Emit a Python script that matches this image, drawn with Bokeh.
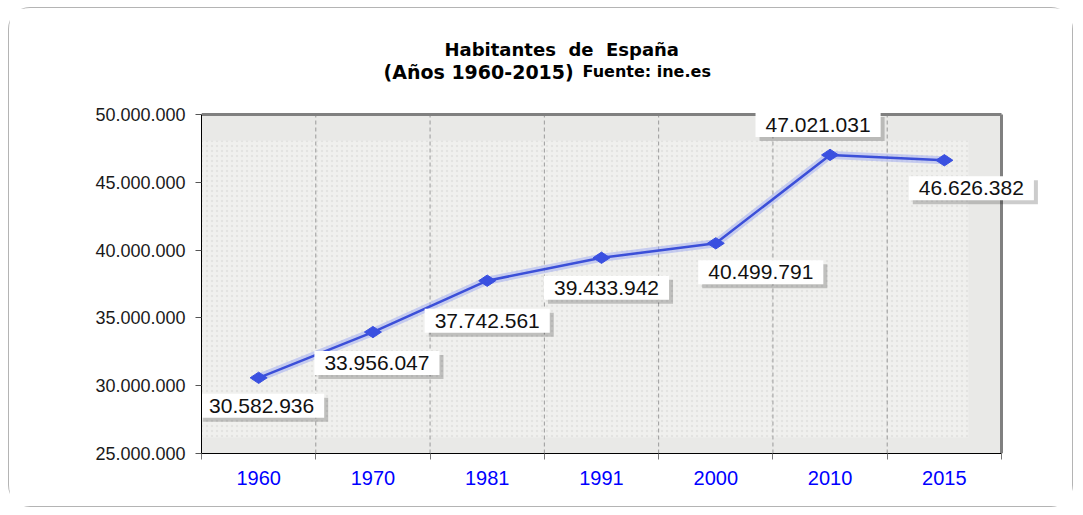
import math
from bokeh.plotting import figure
from bokeh.models import ColumnDataSource, Range1d, FixedTicker
from bokeh.embed import file_html
from bokeh.resources import INLINE
from bokeh.core.properties import value

# ---- data ----
years = ["1960", "1970", "1981", "1991", "2000", "2010", "2015"]
population = [30582936, 33956047, 37742561, 39433942, 40499791, 47021031, 46626382]
y_ticks = [25000000, 30000000, 35000000, 40000000, 45000000, 50000000]
y_tick_labels = ["25.000.000", "30.000.000", "35.000.000", "40.000.000", "45.000.000", "50.000.000"]
title_line1 = "Habitantes\u00a0 de\u00a0 España"
title_line2a = "(Años 1960-2015)"
title_line2b = "Fuente: ine.es"

# label placement (screen pixel offsets, style only)
label_dx = [3, 4, 0, 5, 45, -12, 27]
label_dy = [28, 31, 40, 30, 29, -30, 28]

FONT = "Liberation Sans"
TFONT = "DejaVu Sans"
Y0, Y1 = 25e6, 50e6
N = len(years)

# page geometry (px)
CX, CY = 9, 8            # canvas origin on page
W, H = 1065, 500         # canvas size
FL, FB = 201, 453        # plot-area left / bottom
PXU = 800 / N            # px per category
PYU = 339 / (Y1 - Y0)    # px per person


def px2x(px):
    return (px - FL) / PXU


def py2y(py):
    return Y0 + (FB - py) / PYU


xs = [i + 0.5 for i in range(N)]
labels = [f"{v:,}".replace(",", ".") for v in population]
src = ColumnDataSource(dict(x=xs, y=population, text=labels,
                            dx=label_dx, dy=label_dy,
                            sdx=[d + 4 for d in label_dx], sdy=[d + 4 for d in label_dy]))

p = figure(width=W, height=H,
           x_range=Range1d(0, px2x(CX + W)), y_range=Range1d(Y0, py2y(CY)),
           output_backend="svg", toolbar_location=None,
           min_border_left=FL - CX, min_border_right=0, min_border_top=0,
           min_border_bottom=CY + H - FB,
           background_fill_color="white", border_fill_color="white",
           outline_line_color=None)
p.styles = {"border": "1px solid #b4b4b4", "border-radius": "22px",
            "margin-left": "8px", "margin-top": "7px"}

# plot area wall
p.quad(left=0, right=N, bottom=Y0, top=Y1, fill_color="#e9e9e7", line_color=None)
p.quad(left=0, right=px2x(968), bottom=py2y(437), top=py2y(140),
       fill_color="#f0f0ee", line_color=None,
       hatch_pattern="dot", hatch_color="#d6d6d4", hatch_scale=5, hatch_alpha=0.5, hatch_weight=1.5)

# vertical dashed separators between categories
seps = list(range(1, N))
p.segment(x0=seps, y0=[Y0] * len(seps), x1=seps, y1=[Y1] * len(seps),
          line_color="#9a9a9a", line_width=1, line_dash="4 3")
p.xgrid.visible = False
p.ygrid.visible = False

# axes
p.xaxis.bounds = (0, N)
p.xaxis.ticker = FixedTicker(ticks=xs, minor_ticks=list(range(N + 1)))
p.xaxis.major_label_overrides = {x: y for x, y in zip(xs, years)}
p.xaxis.major_tick_line_color = None
p.xaxis.major_tick_out = 0
p.xaxis.minor_tick_line_color = "#777777"
p.xaxis.minor_tick_out = 6
p.xaxis.minor_tick_in = 0
p.xaxis.axis_line_color = "black"
p.xaxis.major_label_text_color = "#0000ff"
p.xaxis.major_label_text_font = FONT
p.xaxis.major_label_text_font_size = "20px"
p.xaxis.major_label_standoff = 11

p.yaxis.bounds = (Y0, Y1)
p.yaxis.ticker = FixedTicker(ticks=y_ticks, minor_ticks=[])
p.yaxis.major_label_overrides = {t: l for t, l in zip(y_ticks, y_tick_labels)}
p.yaxis.major_tick_line_color = "#555555"
p.yaxis.major_tick_out = 6
p.yaxis.major_tick_in = 0
p.yaxis.minor_tick_line_color = None
p.yaxis.axis_line_color = "black"
p.yaxis.major_label_text_color = "#1a1a1a"
p.yaxis.major_label_text_font = FONT
p.yaxis.major_label_text_font_size = "18px"
p.yaxis.major_label_standoff = 10

# 3D wall edges (top and right)
p.segment(x0=[0, N], y0=[Y1, Y1], x1=[N, N], y1=[Y1, Y0], line_color="#808080", line_width=3)

# series
p.line("x", "y", source=src, line_color="#9ba8f2", line_width=8, line_alpha=0.5)
p.line("x", "y", source=src, line_color="#3b4fd8", line_width=2.5)
p.scatter("x", "y", source=src, marker="diamond", size=17, angle=math.pi / 2,
          fill_color="#3a50e0", line_color="#3a50e0")

# data labels (shadow + box)
pad = dict(left=10, right=10, top=5, bottom=5)
p.text("x", "y", text="text", source=src, x_offset="sdx", y_offset="sdy",
       text_font=value(FONT), text_font_size="21px", text_alpha=0,
       text_align="center", text_baseline="middle",
       background_fill_color="#000000", background_fill_alpha=0.2, padding=pad)
p.text("x", "y", text="text", source=src, x_offset="dx", y_offset="dy",
       text_font=value(FONT), text_font_size="21px", text_color="#111111",
       text_align="center", text_baseline="middle",
       background_fill_color="white", padding=pad)

# title
p.text(x=[px2x(444)], y=[py2y(49)], text=[title_line1], text_font=value(TFONT),
       text_font_size="18px", text_font_style="bold", text_color="#000000",
       text_align="left", text_baseline="alphabetic")
p.text(x=[px2x(383)], y=[py2y(71)], text=[title_line2a], text_font=value(TFONT),
       text_font_size="19px", text_font_style="bold", text_color="#000000",
       text_align="left", text_baseline="alphabetic")
p.text(x=[px2x(582)], y=[py2y(71)], text=[title_line2b], text_font=value(TFONT),
       text_font_size="16px", text_font_style="bold", text_color="#000000",
       text_align="left", text_baseline="alphabetic")

open("out.html", "w").write(file_html(p, INLINE))
